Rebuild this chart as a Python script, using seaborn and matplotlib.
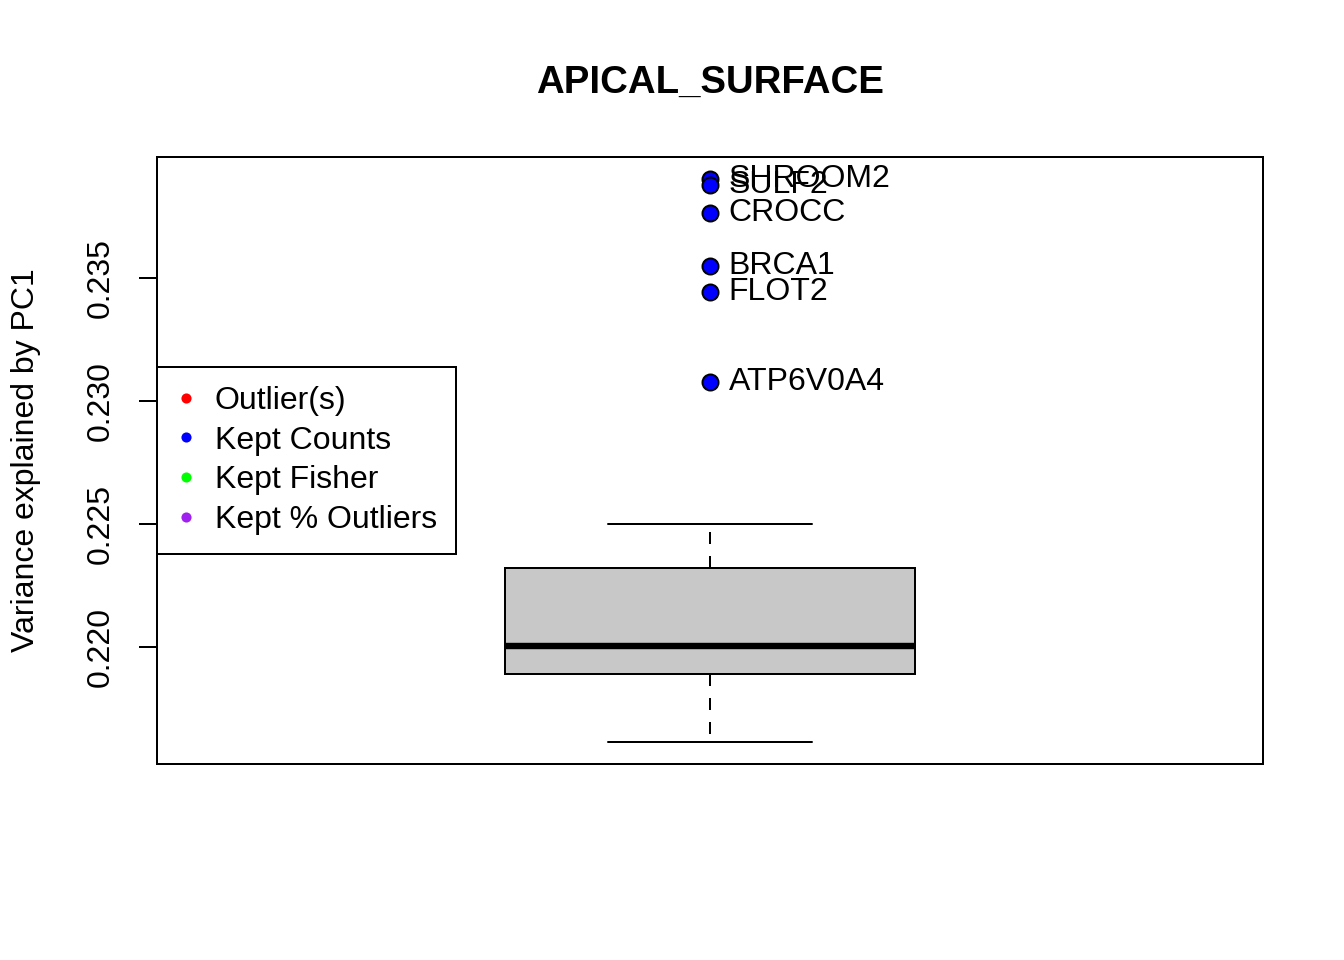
import numpy as np
import pandas as pd
import matplotlib
matplotlib.use("Agg")
import matplotlib.pyplot as plt
from matplotlib.lines import Line2D
import seaborn as sns

# data (variance explained by PC1)
gene_set = "APICAL_SURFACE"
box_summary = [0.21618, 0.21890, 0.22004, 0.22321, 0.22500]  # min, Q1, median, Q3, max (whiskers)
outlier_genes = ["SHROOM2", "SULF2", "CROCC", "BRCA1", "FLOT2", "ATP6V0A4"]
outlier_values = [0.23898, 0.23874, 0.23764, 0.23545, 0.23443, 0.23077]
y_ticks = [0.220, 0.225, 0.230, 0.235]
legend_labels = ["Outlier(s)", "Kept Counts", "Kept Fisher", "Kept % Outliers"]
legend_colors = ["#FF0000", "#0000FF", "#00FF00", "#A020F0"]

box_df = pd.DataFrame({"set": gene_set, "value": box_summary})
out_df = pd.DataFrame({"set": gene_set, "gene": outlier_genes, "value": outlier_values})

sns.set_style("white")
plt.rcParams["font.family"] = ["Liberation Sans", "DejaVu Sans"]
plt.rcParams["text.color"] = "black"
plt.rcParams["axes.labelcolor"] = "black"
plt.rcParams["xtick.color"] = "black"
plt.rcParams["ytick.color"] = "black"

fig = plt.figure(figsize=(7, 5), dpi=192)
ax = fig.add_axes([157 / 1344, 1 - 764 / 960, 1106 / 1344, 607 / 960])

sns.boxplot(data=box_df, x="set", y="value", ax=ax, width=0.4, color="#C8C8C8",
            saturation=1, linecolor="black", linewidth=0.75, showfliers=False,
            whis=3, capwidths=0.2,
            medianprops={"linewidth": 2.4, "solid_capstyle": "butt"},
            whiskerprops={"linestyle": (0, (6, 6))})

sns.stripplot(data=out_df, x="set", y="value", ax=ax, jitter=False, size=6,
              color="#0000FF", edgecolor="black", linewidth=0.75, zorder=4)

for g, v in zip(outlier_genes, outlier_values):
    ax.annotate(g, (0, v), xytext=(7, 0), textcoords="offset points",
                ha="left", va="center", fontsize=12, color="black")

# R style ranges: 4% padding
lo = min(box_summary + outlier_values)
hi = max(box_summary + outlier_values)
pad = (hi - lo) * 0.04
ax.set_ylim(lo - pad, hi + pad)
ax.set_xlim(-0.54, 0.54)

ax.set_yticks(y_ticks)
ax.set_yticklabels([f"{t:.3f}" for t in y_ticks])
ax.tick_params(axis="y", direction="out", length=6.9, width=0.75, pad=8.4,
               labelsize=12, left=True, labelrotation=90, colors="black")
plt.setp(ax.get_yticklabels(), va="center")
ax.set_xticks([])
ax.set_xlabel("")
ax.set_ylabel("Variance explained by PC1", fontsize=12)
ax.yaxis.set_label_coords((41 - 157) / 1106, 0.5)

for s in ax.spines.values():
    s.set_visible(True)
    s.set_color("black")
    s.set_linewidth(0.75)

ax.set_title(gene_set, fontsize=14.4, fontweight="bold", pad=24, color="black")

handles = [Line2D([], [], marker="o", linestyle="", markersize=3.8,
                  markerfacecolor=c, markeredgewidth=0, color=c) for c in legend_colors]
leg = ax.legend(handles, legend_labels, loc="center left", bbox_to_anchor=(0, 0.5),
                borderaxespad=0, fontsize=12, frameon=True, fancybox=False,
                framealpha=1, edgecolor="black", handlelength=0.61,
                handletextpad=0.6, borderpad=0.6, labelspacing=0.3)
leg.get_frame().set_linewidth(0.75)

fig.savefig("out.png", dpi=192)
